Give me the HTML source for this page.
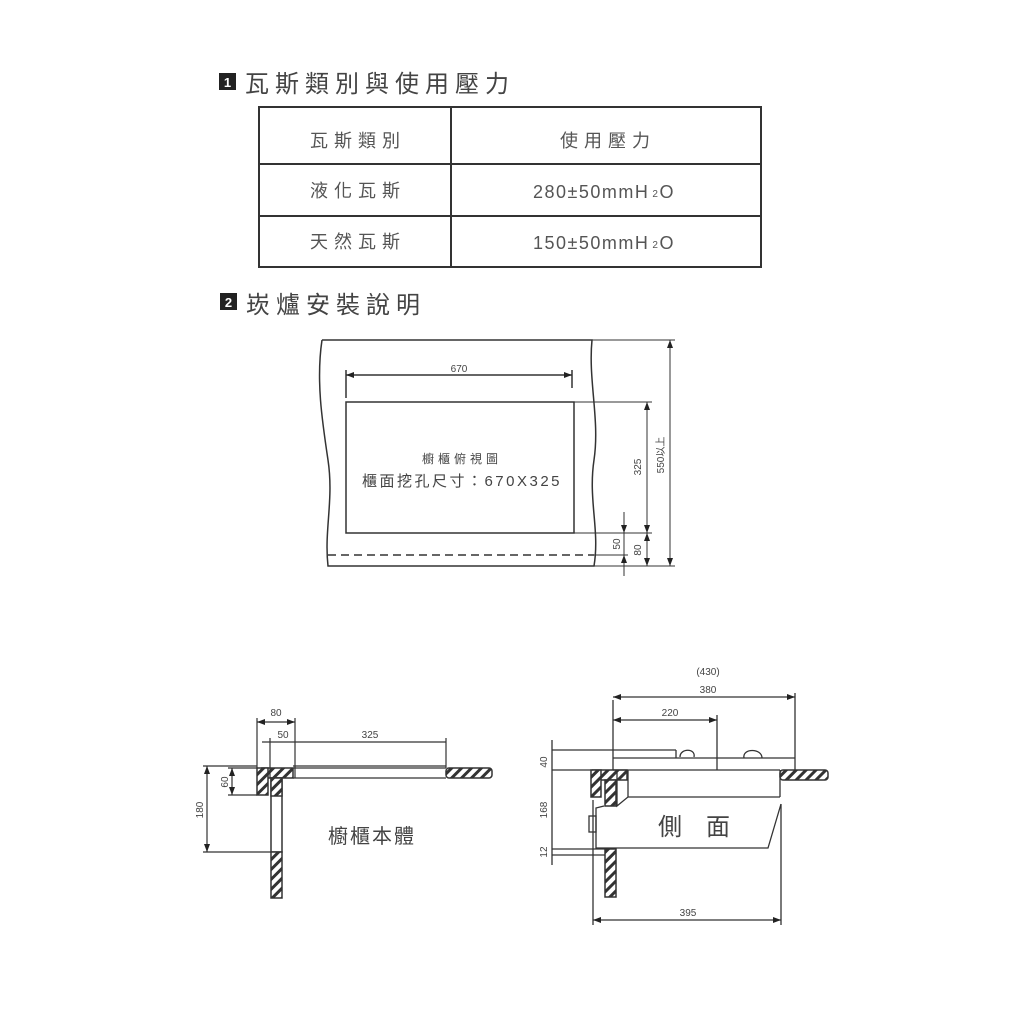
<!DOCTYPE html>
<html><head><meta charset="utf-8"><style>
html,body{margin:0;padding:0;background:#fff;}
svg{display:block}
text{font-family:"Liberation Sans","Noto Sans CJK TC",sans-serif;}
</style></head><body>
<svg width="1024" height="1024" viewBox="0 0 1024 1024" xmlns="http://www.w3.org/2000/svg">
<defs>
<pattern id="h" width="7" height="7" patternUnits="userSpaceOnUse" patternTransform="rotate(45)">
<rect width="7" height="7" fill="#fff"/><rect width="3" height="7" fill="#333"/></pattern>
<marker id="a" markerWidth="8" markerHeight="6" refX="8" refY="3" orient="auto-start-reverse" markerUnits="userSpaceOnUse"><path d="M0,0L8,3L0,6z" fill="#222"/></marker>
</defs>
<!-- Section 1 -->
<rect x="219" y="73" width="17" height="17" fill="#222"/>
<text x="227.5" y="87" font-size="13" fill="#fff" text-anchor="middle" font-weight="bold">1</text>
<text x="245" y="92" font-size="24" fill="#444" letter-spacing="6">瓦斯類別與使用壓力</text>
<g stroke="#333" stroke-width="2" fill="none">
<rect x="259" y="107" width="502" height="160"/>
<line x1="259" y1="164" x2="761" y2="164"/>
<line x1="259" y1="216" x2="761" y2="216"/>
<line x1="451" y1="107" x2="451" y2="267"/>
</g>
<g font-size="18" fill="#555" text-anchor="middle">
<text x="358" y="147" letter-spacing="6">瓦斯類別</text>
<text x="608" y="147" letter-spacing="6">使用壓力</text>
<text x="358" y="197" letter-spacing="6">液化瓦斯</text>
<text x="604" y="198" letter-spacing="1.5">280±50mmH<tspan font-size="10" dx="3" dy="-1">2</tspan><tspan dy="1">O</tspan></text>
<text x="358" y="248" letter-spacing="6">天然瓦斯</text>
<text x="604" y="249" letter-spacing="1.5">150±50mmH<tspan font-size="10" dx="3" dy="-1">2</tspan><tspan dy="1">O</tspan></text>
</g>
<!-- Section 2 -->
<rect x="220" y="293" width="17" height="17" fill="#222"/>
<text x="228.5" y="307" font-size="13" fill="#fff" text-anchor="middle" font-weight="bold">2</text>
<text x="246" y="313" font-size="24" fill="#444" letter-spacing="6">崁爐安裝說明</text>

<!-- top view -->
<g stroke="#333" stroke-width="1.5" fill="none">
<path d="M322,340 L592,340 C588,380 600,420 594,460 C588,500 600,530 594,566 L328,566 C324,530 334,500 328,460 C322,420 316,380 322,340"/>
<line x1="328" y1="555" x2="594" y2="555" stroke-dasharray="8,5"/>
<rect x="346" y="402" width="228" height="131"/>
<line x1="346" y1="370" x2="346" y2="398"/>
<line x1="572" y1="370" x2="572" y2="388"/>
<line x1="346" y1="375" x2="572" y2="375" marker-start="url(#a)" marker-end="url(#a)"/>
<line x1="574" y1="402" x2="652" y2="402" stroke-width="1"/>
<line x1="574" y1="533" x2="652" y2="533" stroke-width="1"/>
<line x1="592" y1="340" x2="675" y2="340" stroke-width="1"/>
<line x1="594" y1="566" x2="675" y2="566" stroke-width="1"/>
<line x1="594" y1="555" x2="628" y2="555" stroke-width="1"/>
<line x1="647" y1="402" x2="647" y2="533" marker-start="url(#a)" marker-end="url(#a)" stroke-width="1"/>
<line x1="647" y1="533" x2="647" y2="566" marker-start="url(#a)" marker-end="url(#a)" stroke-width="1"/>
<line x1="670" y1="340" x2="670" y2="566" marker-start="url(#a)" marker-end="url(#a)" stroke-width="1"/>
<line x1="624" y1="512" x2="624" y2="533" marker-end="url(#a)" stroke-width="1"/>
<line x1="624" y1="576" x2="624" y2="555" marker-end="url(#a)" stroke-width="1"/>
<line x1="624" y1="533" x2="624" y2="555" stroke-width="1"/>
</g>
<g fill="#444" text-anchor="middle">
<text x="459" y="372" font-size="10">670</text>
<text x="462" y="463" font-size="12" letter-spacing="4">櫥櫃俯視圖</text>
<text x="462" y="486" font-size="15" letter-spacing="2.5">櫃面挖孔尺寸：670X325</text>
<text font-size="10" transform="translate(641,467) rotate(-90)">325</text>
<text font-size="10" transform="translate(664,455) rotate(-90)">550以上</text>
<text font-size="10" transform="translate(620,544) rotate(-90)">50</text>
<text font-size="10" transform="translate(641,550) rotate(-90)">80</text>
</g>

<!-- bottom left -->
<g stroke="#333" stroke-width="1.5">
<rect x="262" y="768" width="31" height="10" fill="url(#h)"/>
<rect x="446" y="768" width="46" height="10" rx="3" fill="url(#h)"/>
<rect x="257" y="768" width="11" height="27" fill="url(#h)"/>
<rect x="271" y="778" width="11" height="74" fill="#fff"/>
<rect x="271" y="778" width="11" height="18" fill="url(#h)"/>
<rect x="271" y="852" width="11" height="46" fill="url(#h)"/>
<g fill="none" stroke-width="1.2">
<line x1="293" y1="766" x2="446" y2="766"/>
<line x1="293" y1="768" x2="446" y2="768"/>
<line x1="293" y1="778" x2="446" y2="778"/>
<line x1="257" y1="718" x2="257" y2="768"/>
<line x1="295" y1="718" x2="295" y2="778"/>
<line x1="270" y1="738" x2="270" y2="778"/>
<line x1="446" y1="738" x2="446" y2="768"/>
<line x1="257" y1="722" x2="295" y2="722" marker-start="url(#a)" marker-end="url(#a)"/>
<line x1="262" y1="742" x2="446" y2="742"/>
<line x1="228" y1="768" x2="257" y2="768"/>
<line x1="228" y1="795" x2="257" y2="795"/>
<line x1="232" y1="768" x2="232" y2="795" marker-start="url(#a)" marker-end="url(#a)"/>
<line x1="203" y1="766" x2="257" y2="766"/>
<line x1="203" y1="852" x2="271" y2="852"/>
<line x1="207" y1="766" x2="207" y2="852" marker-start="url(#a)" marker-end="url(#a)"/>
</g>
</g>
<g fill="#444" text-anchor="middle" font-size="10">
<text x="276" y="716">80</text>
<text x="283" y="738">50</text>
<text x="370" y="738">325</text>
<text transform="translate(228,782) rotate(-90)">60</text>
<text transform="translate(203,810) rotate(-90)">180</text>
<text x="372" y="843" font-size="20" letter-spacing="2">櫥櫃本體</text>
</g>

<!-- bottom right -->
<g stroke="#333" stroke-width="1.5">
<rect x="593" y="770" width="34" height="10" fill="url(#h)"/>
<rect x="780" y="770" width="48" height="10" rx="3" fill="url(#h)"/>
<rect x="591" y="770" width="10" height="27" fill="url(#h)"/>
<rect x="605" y="780" width="11" height="26" fill="url(#h)"/>
<rect x="605" y="849" width="11" height="48" fill="url(#h)"/>
<g fill="none" stroke-width="1.3">
<path d="M617,770 L617,806 L628,797 L628,770"/>
<line x1="628" y1="797" x2="780" y2="797"/>
<line x1="780" y1="770" x2="780" y2="797"/>
<path d="M604,806 L596,808 L596,848 L768,848 L781,804"/>
<rect x="589" y="816" width="7" height="16"/>
<line x1="613" y1="770" x2="780" y2="770"/>
<line x1="613" y1="758" x2="795" y2="758"/>
<line x1="613" y1="700" x2="613" y2="770"/>
<line x1="795" y1="693" x2="795" y2="770"/>
<line x1="717" y1="715" x2="717" y2="770"/>
<line x1="613" y1="697" x2="795" y2="697" marker-start="url(#a)" marker-end="url(#a)"/>
<line x1="613" y1="720" x2="717" y2="720" marker-start="url(#a)" marker-end="url(#a)"/>
<line x1="552" y1="750" x2="676" y2="750"/>
<line x1="552" y1="770" x2="593" y2="770"/>
<line x1="552" y1="849" x2="605" y2="849"/>
<line x1="552" y1="855" x2="605" y2="855"/>
<line x1="552" y1="740" x2="552" y2="865"/>
<path d="M676,750 L676,758 M680,757 C680,748 696,748 694,757 M744,758 C742,748 762,748 762,758"/>
<line x1="593" y1="800" x2="593" y2="925"/>
<line x1="781" y1="804" x2="781" y2="925"/>
<line x1="593" y1="920" x2="781" y2="920" marker-start="url(#a)" marker-end="url(#a)"/>
</g>
</g>
<g fill="#444" text-anchor="middle" font-size="10">
<text x="708" y="675">(430)</text>
<text x="708" y="693">380</text>
<text x="670" y="716">220</text>
<text x="688" y="916">395</text>
<text transform="translate(547,762) rotate(-90)">40</text>
<text transform="translate(547,810) rotate(-90)">168</text>
<text transform="translate(547,852) rotate(-90)">12</text>
<text x="694" y="835" font-size="24">側　面</text>
</g>
</svg>
</body></html>
